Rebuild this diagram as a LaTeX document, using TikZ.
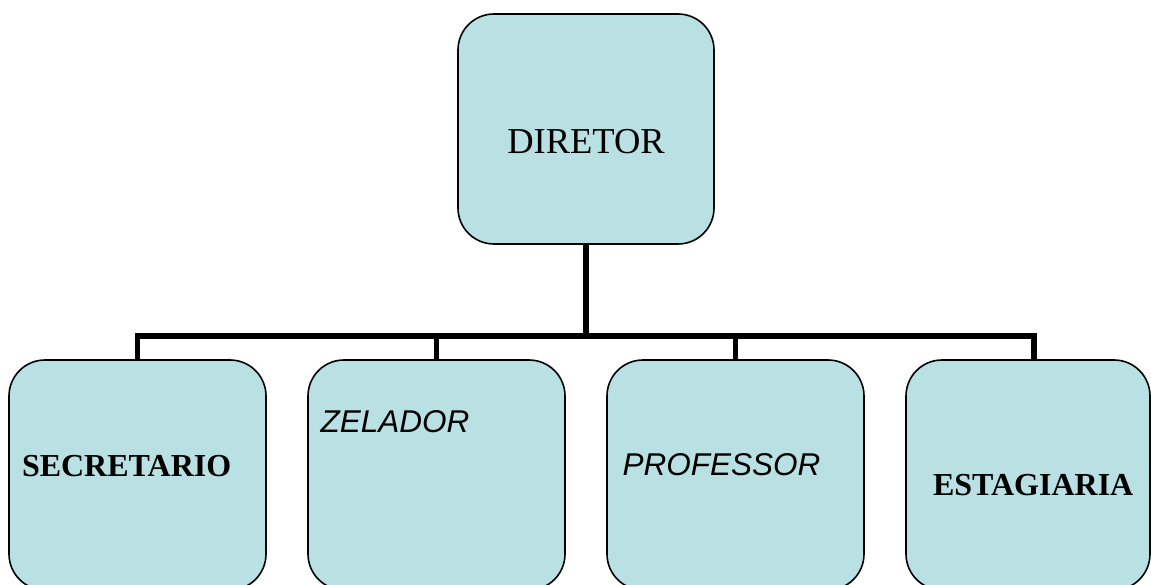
\documentclass[tikz,border=0pt]{standalone}
\usepackage{fontspec}
\setmainfont{Liberation Serif}
\newfontfamily\arialfont{Liberation Sans}
\definecolor{boxfill}{RGB}{185,224,227}
\tikzset{
  orgbox/.style={draw=black, line width=1.6pt, fill=boxfill, rounded corners=36pt,
    minimum width=256pt, minimum height=230pt, inner sep=0pt, outer sep=0pt},
  conn/.style={draw=black, line width=5.5pt, line join=miter},
  lbl/.style={inner sep=0pt, outer sep=0pt, text=black, anchor=base west},
}
\begin{document}
\begin{tikzpicture}[x=1pt,y=-1pt]
\useasboundingbox (0,0) rectangle (1151,585);
\clip (0,0) rectangle (1151,585);
\fill[white] (0,0) rectangle (1151,585);
% boxes
\node[orgbox] (dir) at (586,129) {};
\node[orgbox, minimum width=257pt] (b1) at (137.5,475) {};
\node[orgbox, minimum width=257pt] (b2) at (436.5,475) {};
\node[orgbox, minimum width=257pt] (b3) at (735.5,475) {};
\node[orgbox, minimum width=244pt] (b4) at (1028,475) {};
% connectors
\coordinate (bus) at (586,336);
\draw[conn] (dir.south) -- (bus) -| (b1.north);
\draw[conn] (bus) -| (b2.north);
\draw[conn] (bus) -| (b3.north);
\draw[conn] (bus) -| ([xshift=6pt]b4.north);
% labels
\node[lbl, anchor=base, font=\fontsize{36.5}{40}\selectfont] (tdir) at (586,154) {DIRETOR};
\node[lbl, font=\fontsize{32}{36}\selectfont\bfseries] (t1) at (22,476) {SECRETARIO};
\node[lbl, font=\fontsize{31.5}{36}\selectfont\arialfont\itshape] (t2) at (320.5,432) {ZELADOR};
\node[lbl, font=\fontsize{31.5}{36}\selectfont\arialfont\itshape] (t3) at (622.5,475) {PROFESSOR};
\node[lbl, font=\fontsize{32}{36}\selectfont\bfseries] (t4) at (933,495) {ESTAGIARIA};
\end{tikzpicture}
\end{document}
